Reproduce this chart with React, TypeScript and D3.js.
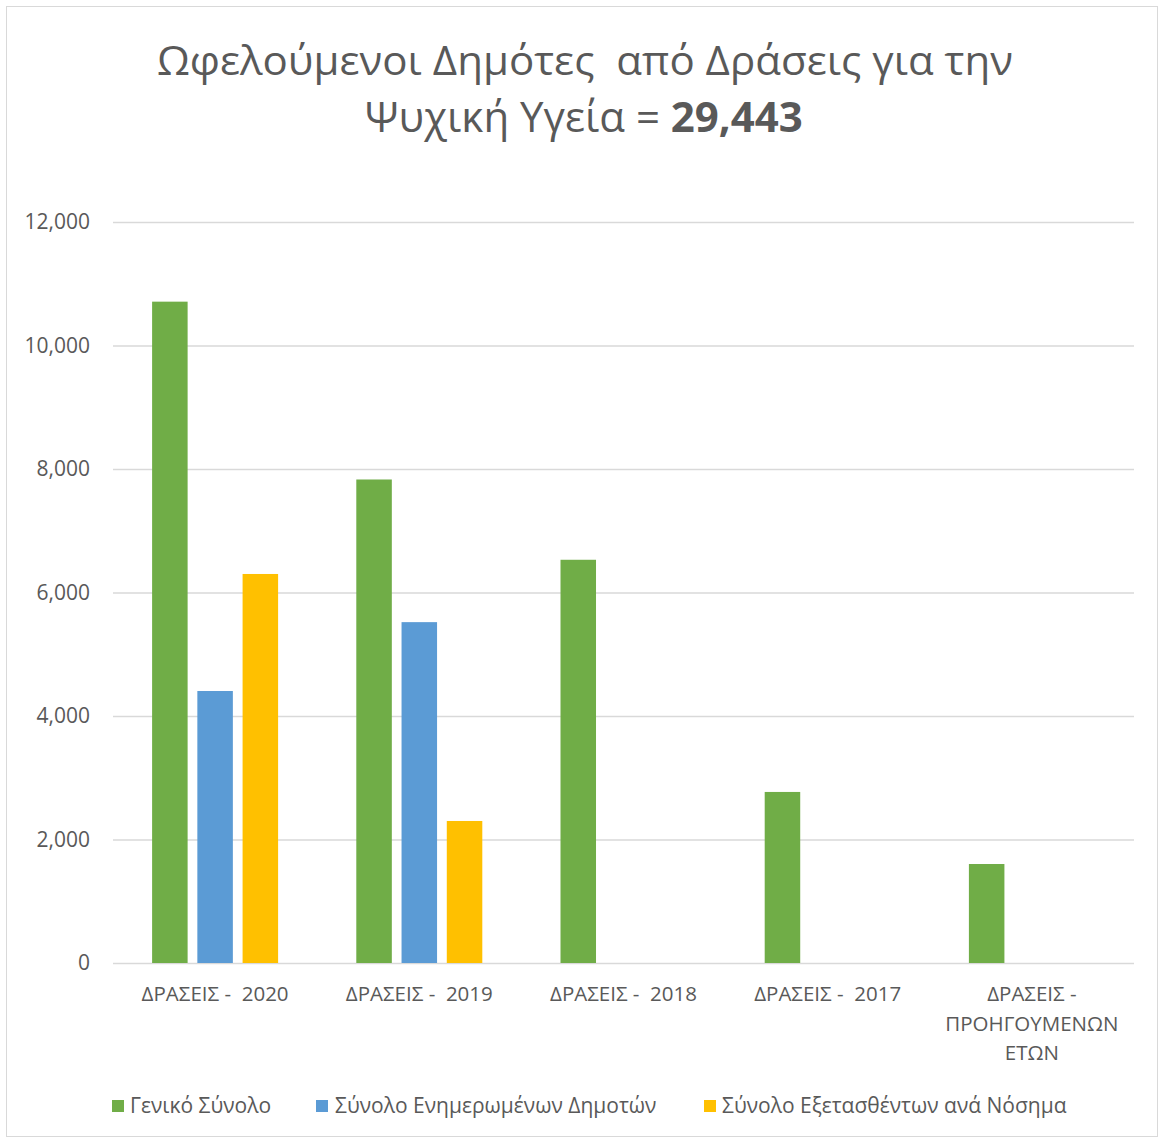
import React from "react";
import * as d3 from "d3";

const categories = ["ΔΡΑΣΕΙΣ -  2020", "ΔΡΑΣΕΙΣ -  2019", "ΔΡΑΣΕΙΣ -  2018", "ΔΡΑΣΕΙΣ -  2017", "ΔΡΑΣΕΙΣ - ΠΡΟΗΓΟΥΜΕΝΩΝ ΕΤΩΝ"];
const categoryLines = [["ΔΡΑΣΕΙΣ -  2020"], ["ΔΡΑΣΕΙΣ -  2019"], ["ΔΡΑΣΕΙΣ -  2018"], ["ΔΡΑΣΕΙΣ -  2017"], ["ΔΡΑΣΕΙΣ -", "ΠΡΟΗΓΟΥΜΕΝΩΝ", "ΕΤΩΝ"]];
const seriesNames = ["Γενικό Σύνολο", "Σύνολο Ενημερωμένων Δημοτών", "Σύνολο Εξετασθέντων ανά Νόσημα"];
const seriesColors = ["#70ad47", "#5b9bd5", "#ffc000"];
const generalTotal = [10710, 7830, 6530, 2770, 1603];
const informedTotal = [4405, 5520, null, null, null];
const examinedTotal = [6300, 2300, null, null, null];
const yTicks = [0, 2000, 4000, 6000, 8000, 10000, 12000];
const titleLine1 = "Ωφελούμενοι Δημότες  από Δράσεις για την";
const titleLine2a = "Ψυχική Υγεία = ";
const titleLine2b = "29,443";

const W = 1162, H = 1139;
const FONT = "'Open Sans', 'Noto Sans', sans-serif";
const TEXT = "#595959";

export default function App() {
  const left = 113, right = 1134, top = 222, bottom = 963;
  const x0 = d3.scaleBand<string>().domain(categories).range([left, right]).paddingInner(0).paddingOuter(0);
  const groupW = 126;
  const x1 = d3.scaleBand<string>().domain(seriesNames).range([0, groupW]).paddingInner(0.215).paddingOuter(0);
  const y = d3.scaleLinear().domain([0, 12000]).range([bottom, top]);
  const fmt = d3.format(",");
  const allSeries = [generalTotal, informedTotal, examinedTotal];

  const legendItems = [
    { sq: 112, tx: 130 },
    { sq: 316, tx: 335 },
    { sq: 704, tx: 722 },
  ];

  return (
    <svg width={W} height={H} style={{ position: "absolute", left: 0, top: 0, background: "#fff", whiteSpace: "pre" }} fontFamily={FONT}>
      <rect x={0} y={0} width={W} height={H} fill="#fff" />
      <rect x={6.5} y={6.5} width={1151} height={1130} fill="none" stroke="#d9d9d9" strokeWidth={1} />
      <text x={585} y={75} textAnchor="middle" fontSize={41} fill={TEXT} textLength={856} lengthAdjust="spacingAndGlyphs" style={{ whiteSpace: "pre" }}>{titleLine1}</text>
      <text x={584} y={132} textAnchor="middle" fontSize={42} fill={TEXT} style={{ whiteSpace: "pre" }}>
        <tspan>{titleLine2a}</tspan>
        <tspan fontWeight="bold">{titleLine2b}</tspan>
      </text>
      {yTicks.map(t => (
        <g key={t}>
          <line x1={left} x2={right} y1={y(t) + 0.5} y2={y(t) + 0.5} stroke="#d9d9d9" strokeWidth={1.5} />
          <text x={90} y={y(t) + 7} textAnchor="end" fontSize={21} fill={TEXT}>{fmt(t)}</text>
        </g>
      ))}
      {categories.map((c, ci) => {
        const cx = (x0(c) as number) + x0.bandwidth() / 2;
        const gx = cx - groupW / 2;
        return (
          <g key={c}>
            {allSeries.map((s, si) => {
              const v = s[ci];
              if (v == null) return null;
              return (
                <rect key={si} x={gx + (x1(seriesNames[si]) as number)} y={y(v)} width={x1.bandwidth()} height={y(0) - y(v)} fill={seriesColors[si]} />
              );
            })}
            {categoryLines[ci].map((ln, li) => (
              <text key={li} x={cx} y={1001 + li * 29.5} textAnchor="middle" fontSize={20.5} fill={TEXT} style={{ whiteSpace: "pre" }}>{ln}</text>
            ))}
          </g>
        );
      })}
      {seriesNames.map((n, i) => (
        <g key={n}>
          <rect x={legendItems[i].sq} y={1100} width={12} height={12} fill={seriesColors[i]} />
          <text x={legendItems[i].tx} y={1113} fontSize={21} fill={TEXT}>{n}</text>
        </g>
      ))}
    </svg>
  );
}
